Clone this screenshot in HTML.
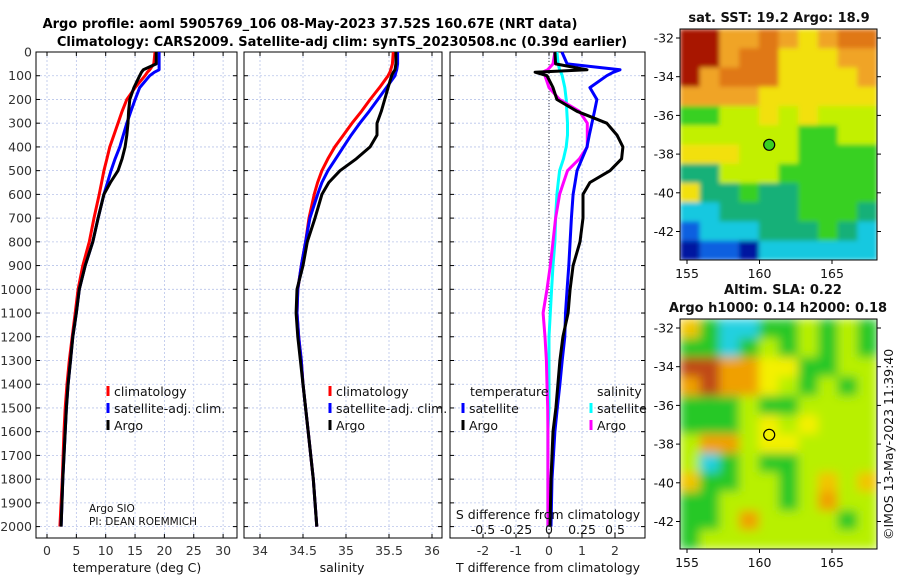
<!DOCTYPE html>
<html><head><meta charset="utf-8"><style>
body{margin:0;background:#fff;}
svg{display:block;font-family:"DejaVu Sans","Liberation Sans",sans-serif;}
</style></head><body>
<svg id="c" width="900" height="580" viewBox="0 0 900 580">
<defs>
<filter id="b1" x="0" y="0" width="1" height="1"><feGaussianBlur stdDeviation="2.5" edgeMode="duplicate"/></filter>
<filter id="b2" x="0" y="0" width="1" height="1"><feGaussianBlur stdDeviation="5" edgeMode="duplicate"/></filter>
<clipPath id="cp1"><rect x="680" y="29" width="197" height="231"/></clipPath>
<clipPath id="cp2"><rect x="680" y="319" width="197" height="230"/></clipPath>
</defs>
<text x="310" y="28" text-anchor="middle" font-size="13" font-weight="bold">Argo profile: aoml 5905769_106 08-May-2023 37.52S 160.67E (NRT data)</text>
<text x="342" y="46" text-anchor="middle" font-size="13" font-weight="bold">Climatology: CARS2009. Satellite-adj clim: synTS_20230508.nc (0.39d earlier)</text>
<g id="g"></g>
</svg>
<script>
const depths=[0,50,75,85,100,150,200,250,300,350,400,450,500,550,600,700,800,900,1000,1100,1200,1300,1400,1500,1600,1800,2000];
const tArgo=[18.6,18.6,16.4,16.1,15.8,14.8,14.1,13.9,13.8,13.6,13.3,12.8,12.1,10.8,9.7,8.7,7.8,6.5,5.5,5.0,4.4,4.0,3.6,3.3,3.1,2.7,2.4];
const tClim=[18.4,18.2,17.5,17.1,16.7,15.0,13.6,12.8,12.1,11.4,10.7,10.2,9.7,9.3,8.9,8.0,7.2,6.1,5.3,4.8,4.3,3.8,3.4,3.1,2.9,2.6,2.2];
const tSat=[19.1,19.1,19.1,18.3,17.5,15.8,15.0,14.3,13.6,13.0,12.4,11.6,10.9,10.3,9.7,8.7,7.8,6.5,5.5,5.0,4.4,4.0,3.6,3.3,3.1,2.7,2.4];
const sArgo=[35.58,35.58,35.57,35.55,35.53,35.49,35.45,35.41,35.36,35.36,35.28,35.12,34.93,34.8,34.72,34.64,34.55,34.5,34.43,34.42,34.44,34.47,34.5,34.53,34.56,34.62,34.66];
const sClim=[35.55,35.54,35.52,35.51,35.49,35.39,35.28,35.18,35.07,34.97,34.87,34.79,34.72,34.67,34.63,34.57,34.53,34.48,34.44,34.43,34.45,34.48,34.5,34.53,34.56,34.62,34.66];
const sSat=[35.6,35.6,35.59,35.58,35.57,35.47,35.37,35.27,35.16,35.06,34.97,34.88,34.79,34.72,34.67,34.58,34.53,34.48,34.44,34.43,34.45,34.48,34.5,34.53,34.56,34.62,34.66];
const dTArgo=[0.18,0.2,1.15,-0.42,-0.06,0.12,0.24,0.85,1.75,2.06,2.24,2.2,1.85,1.24,1.03,1.03,0.94,0.73,0.64,0.58,0.42,0.33,0.27,0.21,0.12,0.06,0.03];
const dTSat=[0.39,0.55,2.15,1.95,1.75,1.24,1.45,1.38,1.3,1.22,1.15,1.0,0.85,0.79,0.73,0.68,0.64,0.6,0.55,0.5,0.48,0.4,0.33,0.25,0.18,0.09,0.06];
const dSSat=[0.06,0.07,0.08,0.09,0.1,0.12,0.13,0.135,0.14,0.14,0.13,0.11,0.08,0.07,0.06,0.05,0.045,0.03,0.02,0.01,0.0,0.0,0.0,0.0,-0.008,-0.008,-0.008];
const dSArgo=[0.045,0.03,-0.01,-0.05,-0.03,0.0,0.08,0.23,0.29,0.29,0.29,0.23,0.14,0.11,0.08,0.05,0.03,0.01,-0.015,-0.045,-0.03,-0.02,-0.015,-0.01,-0.008,-0.008,-0.008];
const depthTicks=[0,100,200,300,400,500,600,700,800,900,1000,1100,1200,1300,1400,1500,1600,1700,1800,1900,2000];
const tTicks=[0,5,10,15,20,25,30];
const sTicks=[34,34.5,35,35.5,36];
const sTickLabels=["34","34.5","35","35.5","36"];
const dTicks=[-2,-1,0,1,2];
const dSLabels=["-0.5","-0.25","0","0.25","0.5"];
const sstGrid=["RRooOoYoOO","RRoOOYYYoo","RoOOOYYYYo","ooooYYYYYY","GGyyYyYyyy","yyyyyyGGyy","YYYyyyGGGG","TTyyyGGGGG","YTTGTTGGGG","CCTTTTGGGT","BCCCTTTGTC","NBBNCCCCCC"];
const slaGrid=["oGCCGGyGyG","GGCGyGyGyG","RROOYYGGyy","OROOYyGyGy","GGGyGGyyyy","GGGyYyYyyy","yOOyYYyyyy","yCGyGGyyyy","oGGyyGyoyo","GGyyyGyOyy","GGyOyyyyGy","Gyyyyyyyyy"];
const NS="http://www.w3.org/2000/svg";
const G=document.getElementById('g');
function mk(tag,attrs,parent){const e=document.createElementNS(NS,tag);for(const k in attrs)e.setAttribute(k,attrs[k]);(parent||G).appendChild(e);return e;}
const Y0=52,DY=0.2373,YB=538;
const yD=d=>Y0+d*DY;
const panels=[
 {x0:36,x1:237,f:v=>47+5.87*v,name:'temperature-panel'},
 {x0:244,x1:442,f:v=>260+86*(v-34),name:'salinity-panel'},
 {x0:450,x1:645,f:v=>549+33*v,name:'difference-panel'}];
panels.forEach((p,i)=>{
 const grp=mk('g',{});
 
 
 mk('rect',{x:p.x0,y:Y0,width:p.x1-p.x0,height:YB-Y0,fill:'#fff'},grp);
 depthTicks.forEach(d=>{
  mk('line',{x1:p.x0,x2:p.x1,y1:yD(d),y2:yD(d),stroke:'#b8c4ea','stroke-dasharray':'2,2','stroke-width':0.8},grp);
  mk('line',{x1:p.x0,x2:p.x0+4,y1:yD(d),y2:yD(d),stroke:'#000'},grp);
  mk('line',{x1:p.x1-4,x2:p.x1,y1:yD(d),y2:yD(d),stroke:'#000'},grp);
  if(i===0){const t=mk('text',{x:p.x0-4,y:yD(d)+4.5,'text-anchor':'end','font-size':12.5,fill:'#333'},grp);t.textContent=d;
   }
 });
 const xt=i===0?tTicks:i===1?sTicks:dTicks;
 xt.forEach((v,k)=>{
  const x=p.f(v);
  mk('line',{x1:x,x2:x,y1:Y0,y2:YB,stroke:'#b8c4ea','stroke-dasharray':'2,2','stroke-width':0.8},grp);
  mk('line',{x1:x,x2:x,y1:YB-4,y2:YB,stroke:'#000'},grp);
  mk('line',{x1:x,x2:x,y1:Y0,y2:Y0+4,stroke:'#000'},grp);
  const t=mk('text',{x:x,y:YB+17,'text-anchor':'middle','font-size':12.5,fill:'#333'},grp);
  t.textContent=i===1?sTickLabels[k]:v;
  
 });
 if(i===2){mk('line',{x1:p.f(0),x2:p.f(0),y1:Y0,y2:YB,stroke:'#334','stroke-dasharray':'1,2','stroke-width':1},grp);}
 mk('rect',{x:p.x0,y:Y0,width:p.x1-p.x0,height:YB-Y0,fill:'none',stroke:'#000','stroke-width':1},grp);
});
function line(vals,f,col,name){
 const pts=vals.map((v,k)=>f(v).toFixed(1)+','+yD(depths[k]).toFixed(1)).join(' ');
 const e=mk('polyline',{points:pts,fill:'none',stroke:col,'stroke-width':3,'stroke-linejoin':'round'});
 
 
}
const fT=panels[0].f,fS=panels[1].f,fD=panels[2].f,fDS=v=>549+132*v;
line(tClim,fT,'#ff0000','temp-climatology-line');
line(tSat,fT,'#0000ff','temp-satellite-line');
line(tArgo,fT,'#000','temp-argo-line');
line(sClim,fS,'#ff0000','sal-climatology-line');
line(sSat,fS,'#0000ff','sal-satellite-line');
line(sArgo,fS,'#000','sal-argo-line');
line(dSSat,fDS,'#00ffff','sdiff-satellite-line');
line(dSArgo,fDS,'#ff00ff','sdiff-argo-line');
line(dTSat,fD,'#0000ff','tdiff-satellite-line');
line(dTArgo,fD,'#000','tdiff-argo-line');
function txt(x,y,s,name,opts){const t=mk('text',Object.assign({x:x,y:y,'font-size':12.5,fill:'#111'},opts||{}));t.textContent=s;
 return t;}
function leg(x,y,col,label,name){mk('line',{x1:x,x2:x,y1:y-10,y2:y,stroke:col,'stroke-width':3});txt(x+6,y,label,name);}
[[108,'temp'],[330,'sal']].forEach(([lx,n])=>{
 leg(lx,396,'#ff0000','climatology',n+'-legend-climatology');
 leg(lx,413,'#0000ff','satellite-adj. clim.',n+'-legend-satellite');
 leg(lx,430,'#000','Argo',n+'-legend-argo');
});
txt(470,396,'temperature','legend-temperature-header');
txt(597,396,'salinity','legend-salinity-header');
leg(463,413,'#0000ff','satellite','tdiff-legend-satellite');
leg(463,430,'#000','Argo','tdiff-legend-argo');
leg(591,413,'#00ffff','satellite','sdiff-legend-satellite');
leg(591,430,'#ff00ff','Argo','sdiff-legend-argo');
txt(89,512,'Argo SIO','argo-sio-label',{'font-size':10.5});
txt(89,525,'PI: DEAN ROEMMICH','pi-label',{'font-size':10.5});
txt(548,519,'S difference from climatology','s-diff-axis-title',{'text-anchor':'middle'});
dSLabels.forEach((s,k)=>txt(fD(dTicks[k]),534,s,'s-diff-tick-label',{'text-anchor':'middle'}));
txt(137,572,'temperature (deg C)','x-axis-title-temperature',{'text-anchor':'middle'});
txt(342,572,'salinity','x-axis-title-salinity',{'text-anchor':'middle'});
txt(548,572,'T difference from climatology','x-axis-title-tdiff',{'text-anchor':'middle'});
const sstCol={R:'#a81200',O:'#e07818',o:'#f0a428',Y:'#f2e010',y:'#c2f000',G:'#38d020',T:'#18b078',C:'#18c8e0',B:'#1060e0',N:'#0418a0',g:'#20b040'};
const slaCol={R:'#c04818',O:'#f0a000',o:'#f2c400',Y:'#f4f000',y:'#b8f000',G:'#28c828',C:'#20d0e0'};
function map(grid,cols,X0,Y0m,W,H,name,filt,clip){
 const grp=mk('g',{});
 
 
 const cw=W/10,ch=H/12;
 const cg=mk('g',{'clip-path':'url(#'+clip+')'},grp);
 const img=mk('g',{filter:'url(#'+filt+')'},cg);
 grid.forEach((row,r)=>row.split('').forEach((c,k)=>mk('rect',{x:X0+k*cw,y:Y0m+r*ch,width:cw+0.5,height:ch+0.5,fill:cols[c]},img)));
 mk('rect',{x:X0,y:Y0m,width:W,height:H,fill:'none',stroke:'#000'},grp);
 const lonX=v=>X0+7+(v-155)*14.5, latY=v=>Y0m+9+(-32-v)*19.35;
 [155,160,165].forEach(v=>{mk('line',{x1:lonX(v),x2:lonX(v),y1:Y0m+H,y2:Y0m+H+4,stroke:'#000'},grp);
  txt(lonX(v),Y0m+H+18,v,'map-lon-label',{'text-anchor':'middle'});});
 [-32,-34,-36,-38,-40,-42].forEach(v=>{mk('line',{x1:X0-4,x2:X0,y1:latY(v),y2:latY(v),stroke:'#000'},grp);
  mk('line',{x1:X0+W,x2:X0+W+4,y1:latY(v),y2:latY(v),stroke:'#000'},grp);
  txt(X0-6,latY(v)+4.5,v,'map-lat-label',{'text-anchor':'end'});});
 mk('circle',{cx:lonX(160.67),cy:latY(-37.52),r:5.5,fill:name==='sst-map'?'#38d020':'none',stroke:'#000','stroke-width':1.2},grp);
}
map(sstGrid,sstCol,680,29,197,231,'sst-map','b1','cp1');
map(slaGrid,slaCol,680,319,197,230,'sla-map','b2','cp2');
txt(779,22,'sat. SST: 19.2 Argo: 18.9','sst-map-title',{'text-anchor':'middle','font-weight':'bold','font-size':13});
txt(783,294,'Altim. SLA: 0.22','sla-map-title',{'text-anchor':'middle','font-weight':'bold','font-size':13});
txt(778,312,'Argo h1000: 0.14 h2000: 0.18','sla-map-subtitle',{'text-anchor':'middle','font-weight':'bold','font-size':13});
txt(0,0,'©IMOS 13-May-2023 11:39:40','imos-credit',{transform:'translate(893,540) rotate(-90)','font-size':12.5});
</script>
</body></html>
